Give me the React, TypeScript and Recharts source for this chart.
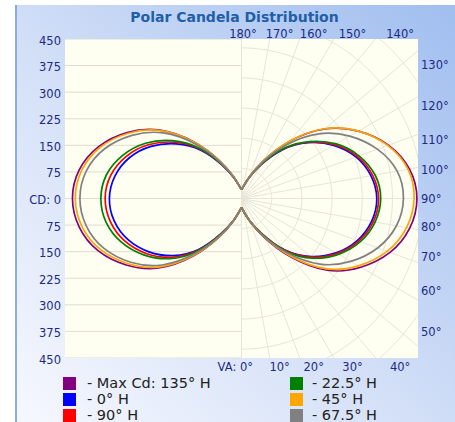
import React from 'react';
import { ScatterChart, Scatter, XAxis, YAxis, CartesianGrid } from 'recharts';

// Vertical angles (VA) at which candela values are read, 0 = nadir, 180 = zenith
const verticalAngles = [0, 10, 20, 30, 40, 50, 60, 70, 80, 90, 100, 110, 120, 130, 140, 150, 160, 170, 180];

// Candela values: right half (H plane) and left half (H + 180 plane)
const maxCd135Right = [25, 38, 68, 125, 215, 315, 388, 445, 481, 494, 480, 440, 380, 305, 210, 122, 66, 37, 25];
const maxCd135Left = [25, 38, 68, 125, 212, 305, 375, 430, 464, 476, 464, 428, 372, 300, 208, 122, 66, 37, 25];
const h0Right = [25, 38, 66, 115, 190, 255, 307, 347, 372, 381, 370, 343, 300, 245, 180, 110, 62, 36, 25];
const h0Left = [25, 38, 66, 114, 188, 251, 301, 340, 364, 372, 362, 336, 294, 240, 178, 109, 62, 36, 25];
const h90Right = [25, 38, 66, 115, 191, 257, 310, 351, 377, 386, 375, 347, 303, 247, 182, 111, 62, 36, 25];
const h90Left = [25, 38, 66, 115, 191, 258, 310, 350, 375, 384, 374, 346, 303, 247, 182, 111, 62, 36, 25];
const h22Right = [25, 38, 66, 116, 194, 262, 315, 356, 382, 392, 382, 352, 308, 250, 184, 112, 63, 36, 25];
const h22Left = [25, 38, 66, 116, 194, 264, 318, 360, 387, 396, 386, 356, 312, 254, 186, 112, 63, 36, 25];
const h45Right = [25, 38, 67, 123, 210, 308, 380, 436, 472, 486, 476, 438, 380, 306, 211, 122, 66, 37, 25];
const h45Left = [25, 38, 67, 123, 208, 300, 368, 422, 456, 468, 457, 423, 368, 298, 207, 121, 65, 37, 25];
const h67Right = [25, 38, 67, 120, 200, 288, 355, 408, 443, 456, 445, 407, 352, 284, 198, 118, 64, 36, 25];
const h67Left = [25, 38, 67, 120, 202, 292, 360, 412, 444, 455, 444, 410, 356, 288, 200, 118, 64, 36, 25];

const seriesNames = ['Max Cd: 135° H', '0° H', '90° H', '22.5° H', '45° H', '67.5° H'];
const seriesColors = ['#800080', '#0000ff', '#ff0000', '#008000', '#ffa500', '#808080'];
const seriesRight = [maxCd135Right, h0Right, h90Right, h22Right, h45Right, h67Right];
const seriesLeft = [maxCd135Left, h0Left, h90Left, h22Left, h45Left, h67Left];

// Axis / grid definitions
const cdTicks = [450, 375, 300, 225, 150, 75, 0, -75, -150, -225, -300, -375, -450];
const topAngleLabels = [180, 170, 160, 150, 140];
const bottomAngleLabels = [0, 10, 20, 30, 40];
const rightAngleLabels = [130, 120, 110, 100, 90, 80, 70, 60, 50];
const gridRadii = [85, 170, 255, 340, 425, 510, 595, 680];
const gridSpokes = verticalAngles;

const X_HALF = 497;
const Y_HALF = 450;
const rad = (d: number) => (d * Math.PI) / 180;

const toPoints = (vals: number[], side: number) =>
  vals.map((r, i) => ({
    x: side * r * Math.sin(rad(verticalAngles[i])),
    y: -r * Math.cos(rad(verticalAngles[i])),
  }));

const arcPoints = (r: number) => {
  const pts = [];
  for (let a = 0; a <= 180; a += 2) pts.push({ x: r * Math.sin(rad(a)), y: -r * Math.cos(rad(a)) });
  return pts;
};
const spokePoints = (a: number) => [
  { x: 0, y: 0 },
  { x: 900 * Math.sin(rad(a)), y: -900 * Math.cos(rad(a)) },
];

const labelPos = (t: number) => (t === 0 ? 0 : 512 * Math.tan(rad(t)) + 17);
const topTicks = topAngleLabels.map((a) => labelPos(180 - a));
const bottomTicks = bottomAngleLabels.map((a) => labelPos(a));
const rightTicks = rightAngleLabels.map((a) => (a === 90 ? 0 : -Y_HALF / Math.tan(rad(a))));

const labelStyle: React.CSSProperties = {
  fontFamily: 'DejaVu Sans, sans-serif',
  fontSize: 11.5,
  fill: '#1b2a84',
};

const noShape = () => <g />;

const LeftTick = (props: any) => {
  const { x, y, payload } = props;
  const v = payload.value;
  return (
    <text x={x} y={y} dy={5.5} textAnchor="end" style={labelStyle}>
      {v === 0 ? 'CD: 0' : String(Math.abs(v))}
    </text>
  );
};
const TopTick = (props: any) => {
  const { x, y, index } = props;
  return (
    <text x={x} y={y} dx={index === 0 ? 1.5 : 0} dy={-1.5} textAnchor="middle" style={labelStyle}>
      {`${topAngleLabels[index]}°`}
    </text>
  );
};
const BottomTick = (props: any) => {
  const { x, y, index } = props;
  if (index === 0) {
    return (
      <text x={x} y={y} dx={11.5} dy={12.5} textAnchor="end" style={labelStyle}>
        {`VA: ${bottomAngleLabels[0]}°`}
      </text>
    );
  }
  return (
    <text x={x} y={y} dy={12.5} textAnchor="middle" style={labelStyle}>
      {`${bottomAngleLabels[index]}°`}
    </text>
  );
};
const RightTick = (props: any) => {
  const { x, y, index } = props;
  return (
    <text x={x} y={y} dy={4} textAnchor="start" style={labelStyle}>
      {`${rightAngleLabels[index]}°`}
    </text>
  );
};

const gridStroke = { stroke: '#e7e5da', strokeWidth: 1 };
const hGridStroke = { stroke: '#dedcd0', strokeWidth: 1 };

export default function App() {
  return (
    <div style={{ position: 'absolute', left: 0, top: 0, width: 455, height: 422, background: '#ffffff', overflow: 'hidden' }}>
      <div
        style={{
          position: 'absolute',
          left: 15,
          top: 5,
          width: 440,
          height: 417,
          background: 'linear-gradient(to top right, #f6f8fe 0%, #d8e3f8 40%, #a0beef 100%)',
          borderLeft: '2px solid #8aabe6',
          boxSizing: 'border-box',
        }}
      />
      <div
        style={{
          position: 'absolute',
          left: 0,
          width: 469,
          top: 8,
          textAlign: 'center',
          fontFamily: 'DejaVu Sans, sans-serif',
          fontWeight: 'bold',
          fontSize: 14,
          color: '#1f5ea8',
          lineHeight: '18px',
        }}
      >
        Polar Candela Distribution
      </div>
      <div style={{ position: 'absolute', left: 0, top: 0 }}>
        <ScatterChart width={455} height={422} margin={{ top: 0, right: 0, bottom: 44, left: 0 }}>
          <CartesianGrid horizontal={false} vertical={false} fill="#fefef1" />
          <XAxis
            xAxisId={0}
            type="number"
            dataKey="x"
            domain={[-X_HALF, X_HALF]}
            allowDataOverflow
            orientation="bottom"
            height={20}
            ticks={bottomTicks}
            interval={0}
            tickSize={0}
            tickMargin={0}
            axisLine={false}
            tickLine={false}
            tick={BottomTick}
          />
          <XAxis
            xAxisId="top"
            type="number"
            dataKey="x"
            domain={[-X_HALF, X_HALF]}
            allowDataOverflow
            orientation="top"
            height={39}
            ticks={topTicks}
            interval={0}
            tickSize={0}
            tickMargin={0}
            axisLine={false}
            tickLine={false}
            tick={TopTick}
          />
          <YAxis
            yAxisId={0}
            type="number"
            dataKey="y"
            domain={[-Y_HALF, Y_HALF]}
            allowDataOverflow
            orientation="left"
            width={65}
            ticks={cdTicks}
            interval={0}
            tickSize={0}
            tickMargin={4}
            axisLine={false}
            tickLine={false}
            tick={LeftTick}
          />
          <YAxis
            yAxisId="right"
            type="number"
            dataKey="y"
            domain={[-Y_HALF, Y_HALF]}
            allowDataOverflow
            orientation="right"
            width={37}
            ticks={rightTicks}
            interval={0}
            tickSize={0}
            tickMargin={3}
            axisLine={false}
            tickLine={false}
            tick={RightTick}
          />
          {cdTicks.map((v) => (
            <Scatter
              key={`h${v}`}
              data={[{ x: -X_HALF, y: v }, { x: 0, y: v }]}
              line={hGridStroke}
              shape={noShape}
              isAnimationActive={false}
              legendType="none"
            />
          ))}
          {gridRadii.map((r) => (
            <Scatter
              key={`arc${r}`}
              data={arcPoints(r)}
              line={gridStroke}
              shape={noShape}
              isAnimationActive={false}
              legendType="none"
            />
          ))}
          {gridSpokes.map((a) => (
            <Scatter
              key={`sp${a}`}
              data={spokePoints(a)}
              line={gridStroke}
              shape={noShape}
              isAnimationActive={false}
              legendType="none"
            />
          ))}
          {seriesNames.map((n, i) => (
            <Scatter
              key={`r${i}`}
              name={n}
              data={toPoints(seriesRight[i], 1)}
              line={{ stroke: seriesColors[i], strokeWidth: 1.7 }}
              lineJointType="natural"
              shape={noShape}
              isAnimationActive={false}
            />
          ))}
          {seriesNames.map((n, i) => (
            <Scatter
              key={`l${i}`}
              name={n}
              data={toPoints(seriesLeft[i], -1)}
              line={{ stroke: seriesColors[i], strokeWidth: 1.7 }}
              lineJointType="natural"
              shape={noShape}
              isAnimationActive={false}
            />
          ))}
        </ScatterChart>
      </div>
      {seriesNames.map((n, i) => {
        const col = i < 3 ? 0 : 1;
        const row = i % 3;
        return (
          <div
            key={n}
            style={{
              position: 'absolute',
              left: col === 0 ? 63 : 290,
              top: 375 + row * 16,
              height: 16,
              display: 'flex',
              alignItems: 'center',
              fontFamily: 'DejaVu Sans, sans-serif',
              fontSize: 14.5,
              color: '#222222',
              whiteSpace: 'nowrap',
            }}
          >
            <span style={{ display: 'inline-block', width: 13, height: 13, background: seriesColors[i], marginRight: col === 0 ? 11 : 9 }} />
            <span>{`- ${n}`}</span>
          </div>
        );
      })}
    </div>
  );
}
